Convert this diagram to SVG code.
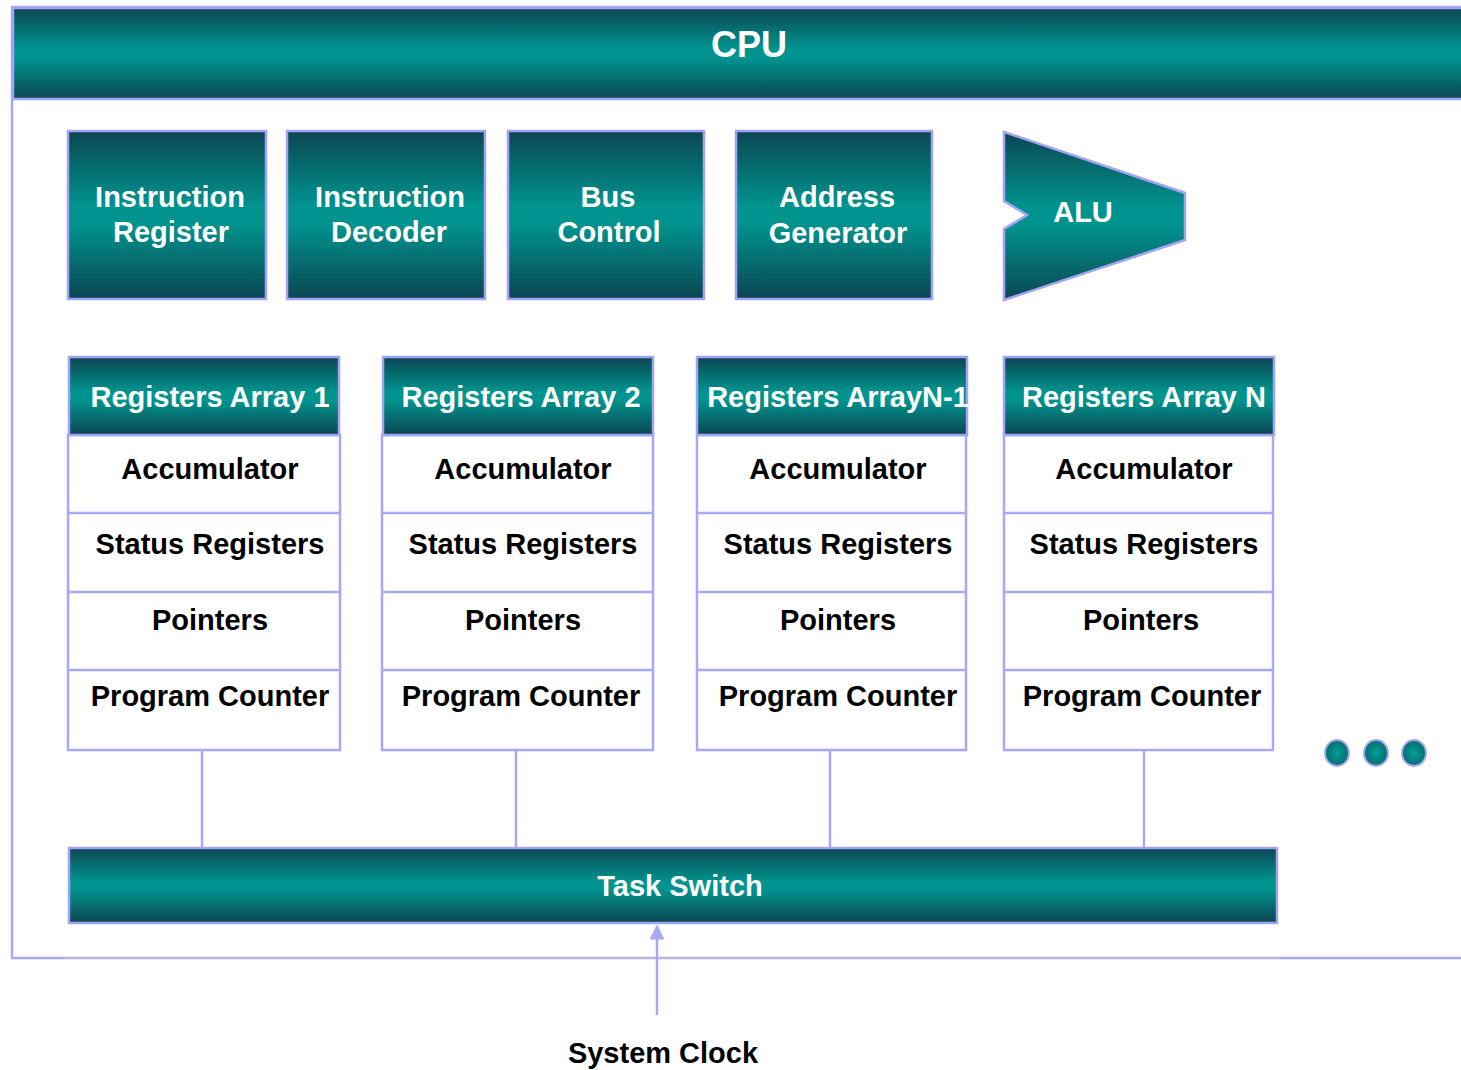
<svg xmlns="http://www.w3.org/2000/svg" width="1461" height="1070" viewBox="0 0 1461 1070">
  <defs>
    <linearGradient id="teal" x1="0" y1="0" x2="0" y2="1">
      <stop offset="0" stop-color="#0b4652"/>
      <stop offset="0.45" stop-color="#01948f"/>
      <stop offset="0.55" stop-color="#01948f"/>
      <stop offset="1" stop-color="#0b4652"/>
    </linearGradient>
    <radialGradient id="dot" cx="0.5" cy="0.5" r="0.5">
      <stop offset="0" stop-color="#00a098"/>
      <stop offset="1" stop-color="#0b6a70"/>
    </radialGradient>
    <marker id="arrow" viewBox="0 0 10 10" refX="9" refY="5" markerWidth="6" markerHeight="6" orient="auto">
      <path d="M0,0 L10,5 L0,10 Z" fill="#a8a8f8"/>
    </marker>
  </defs>
  <style>
    .band { fill: url(#teal); stroke: #a2a2f6; stroke-width: 2.5; }
    .cell { fill: #ffffff; stroke: #a8a8fa; stroke-width: 2.5; }
    .wt { font-family: "Liberation Sans", Arial, sans-serif; font-weight: bold; fill: #ffffff; text-anchor: middle; font-size: 29px; }
    .bt { font-family: "Liberation Sans", Arial, sans-serif; font-weight: bold; fill: #000000; text-anchor: middle; font-size: 29px; }
    .link { stroke: #a8a8f8; stroke-width: 2.5; fill: none; }
  </style>

  <rect width="1461" height="1070" fill="#ffffff"/>

  <!-- CPU frame and title band -->
  <g id="cpu">
    <path d="M1461,7 L12,7 L12,958 L65,958" class="link"/>
    <path d="M65,958 L1280,958" stroke="#b6b6da" stroke-width="2.5" fill="none"/>
    <path d="M1280,958 L1461,958" class="link"/>
    <rect x="13" y="8" width="1460" height="91" class="band"/>
    <text x="749" y="57" class="wt" style="font-size:36px">CPU</text>
  </g>

  <!-- control units -->
  <g id="instruction-register">
    <rect x="68" y="131" width="198" height="168" class="band"/>
    <text x="170" y="207" class="wt">Instruction</text>
    <text x="171" y="242" class="wt">Register</text>
  </g>
  <g id="instruction-decoder">
    <rect x="287" y="131" width="198" height="168" class="band"/>
    <text x="390" y="207" class="wt">Instruction</text>
    <text x="389" y="242" class="wt">Decoder</text>
  </g>
  <g id="bus-control">
    <rect x="508" y="131" width="196" height="168" class="band"/>
    <text x="608" y="207" class="wt">Bus</text>
    <text x="609" y="242" class="wt">Control</text>
  </g>
  <g id="address-generator">
    <rect x="736" y="131" width="196" height="168" class="band"/>
    <text x="837" y="207" class="wt">Address</text>
    <text x="838" y="243" class="wt">Generator</text>
  </g>
  <g id="alu">
    <path d="M1004,132 L1185,193 L1185,240 L1004,300 L1004,229 L1027,215 L1004,201 Z" class="band"/>
    <text x="1083" y="222" class="wt">ALU</text>
  </g>

  <!-- register arrays -->
  <g id="registers-array-1">
    <rect x="68" y="435" width="272" height="315" class="cell"/>
    <path d="M68,513 H340 M68,592 H340 M68,670 H340" class="link"/>
    <rect x="69" y="357" width="270" height="78" class="band"/>
    <text x="210" y="407" class="wt">Registers Array 1</text>
    <text x="210" y="479" class="bt">Accumulator</text>
    <text x="210" y="554" class="bt">Status Registers</text>
    <text x="210" y="630" class="bt">Pointers</text>
    <text x="210" y="706" class="bt">Program Counter</text>
  </g>
  <g id="registers-array-2">
    <rect x="382" y="435" width="271" height="315" class="cell"/>
    <path d="M382,513 H653 M382,592 H653 M382,670 H653" class="link"/>
    <rect x="383" y="357" width="270" height="78" class="band"/>
    <text x="521" y="407" class="wt">Registers Array 2</text>
    <text x="523" y="479" class="bt">Accumulator</text>
    <text x="523" y="554" class="bt">Status Registers</text>
    <text x="523" y="630" class="bt">Pointers</text>
    <text x="521" y="706" class="bt">Program Counter</text>
  </g>
  <g id="registers-array-n-1">
    <rect x="697" y="435" width="269" height="315" class="cell"/>
    <path d="M697,513 H966 M697,592 H966 M697,670 H966" class="link"/>
    <rect x="697" y="357" width="270" height="78" class="band"/>
    <text x="838" y="407" class="wt">Registers ArrayN-1</text>
    <text x="838" y="479" class="bt">Accumulator</text>
    <text x="838" y="554" class="bt">Status Registers</text>
    <text x="838" y="630" class="bt">Pointers</text>
    <text x="838" y="706" class="bt">Program Counter</text>
  </g>
  <g id="registers-array-n">
    <rect x="1004" y="435" width="269" height="315" class="cell"/>
    <path d="M1004,513 H1273 M1004,592 H1273 M1004,670 H1273" class="link"/>
    <rect x="1004" y="357" width="270" height="78" class="band"/>
    <text x="1144" y="407" class="wt">Registers Array N</text>
    <text x="1144" y="479" class="bt">Accumulator</text>
    <text x="1144" y="554" class="bt">Status Registers</text>
    <text x="1141" y="630" class="bt">Pointers</text>
    <text x="1142" y="706" class="bt">Program Counter</text>
  </g>

  <!-- more arrays follow -->
  <g id="ellipsis">
    <ellipse cx="1337" cy="753" rx="12" ry="13" fill="url(#dot)" stroke="#a8a8f8" stroke-width="2"/>
    <ellipse cx="1376" cy="753" rx="12" ry="13" fill="url(#dot)" stroke="#a8a8f8" stroke-width="2"/>
    <ellipse cx="1414" cy="753" rx="12" ry="13" fill="url(#dot)" stroke="#a8a8f8" stroke-width="2"/>
  </g>

  <g id="task-switch">
    <rect x="69" y="848" width="1208" height="75" class="band"/>
    <text x="680" y="896" class="wt">Task Switch</text>
  </g>

  <g id="system-clock">
    <text x="663" y="1063" class="bt">System Clock</text>
  </g>

  <!-- connectors -->
  <g id="connectors">
    <path d="M202,751 V847" class="link"/>
    <path d="M516,751 V847" class="link"/>
    <path d="M830,751 V847" class="link"/>
    <path d="M1144,751 V847" class="link"/>
    <path d="M657,1015 V926" class="link" marker-end="url(#arrow)"/>
  </g>
</svg>
